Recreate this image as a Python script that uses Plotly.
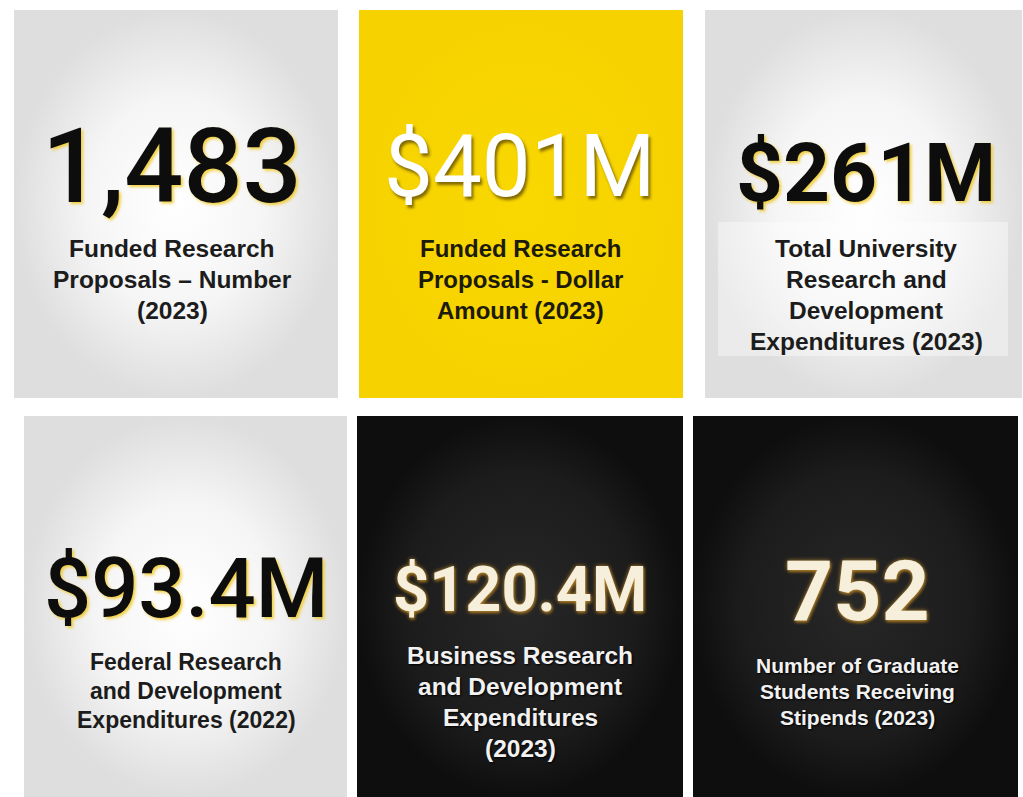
import plotly.graph_objects as go

# ---- data ----
values = ["1,483", "$401M", "$261M", "$93.4M", "$120.4M", "752"]
labels = [
    ["Funded Research", "Proposals – Number", "(2023)"],
    ["Funded Research", "Proposals - Dollar", "Amount (2023)"],
    ["Total University", "Research and", "Development", "Expenditures (2023)"],
    ["Federal Research", "and Development", "Expenditures (2022)"],
    ["Business Research", "and Development", "Expenditures", "(2023)"],
    ["Number of Graduate", "Students Receiving", "Stipends (2023)"],
]

# ---- layout / style ----
W, H = 1023, 797
tiles = [  # x0, x1, y0, y1 in page pixels
    (14, 338, 10, 398),
    (359, 683, 10, 398),
    (705, 1022, 10, 398),
    (24, 347, 416, 797),
    (357, 683, 416, 797),
    (693, 1018, 416, 797),
]
themes = ["light", "yellow", "light", "light", "dark", "dark"]
num_pos = [(172, 166), (520, 166), (866, 173), (186, 588), (520, 589), (857, 591)]
num_size = [104, 87, 82, 83, 63, 84]
num_weight = [500, 400, 700, 500, 700, 700]
lab_first = [248, 248, 248, 662, 655, 665]
lab_step = [31, 31, 31, 29, 31, 26]
lab_size = [24.5, 24, 24.5, 23, 24.5, 21]

fills = {
    "light": dict(type="radial", colorscale=[[0, "#ffffff"], [0.55, "#f5f5f5"], [1, "#dedede"]]),
    "yellow": dict(type="radial", colorscale=[[0, "#f9d700"], [1, "#f6d300"]]),
    "dark": dict(type="radial", colorscale=[[0, "#272727"], [0.7, "#1c1c1c"], [1, "#0e0e0e"]]),
}
num_color = {"light": "#0d0d0d", "yellow": "#ffffff", "dark": "#f6efdc"}
num_shadow = {
    "light": "2px 2px 3px rgba(240,200,30,0.85)",
    "yellow": "2px 3px 3px rgba(90,70,0,0.75)",
    "dark": "0px 0px 4px #b8862a, 1px 2px 3px #8a6420",
}
lab_color = {"light": "#1c1c1c", "yellow": "#1c1a08", "dark": "#f2f2f2"}
lab_shadow = {"light": "none", "yellow": "none", "dark": "1px 1px 2px #000000"}

fig = go.Figure()

for i, (x0, x1, y0, y1) in enumerate(tiles):
    th = themes[i]
    fig.add_trace(go.Scatter(
        x=[x0, x1, x1, x0, x0], y=[y0, y0, y1, y1, y0],
        mode="lines", line=dict(width=0), fill="toself",
        fillgradient=fills[th], hoverinfo="skip", showlegend=False,
    ))

# faint white panel behind the text on the third tile
fig.add_shape(type="rect", x0=718, x1=1008, y0=222, y1=356,
              fillcolor="rgba(255,255,255,0.4)", line_width=0, layer="above")

for i, v in enumerate(values):
    th = themes[i]
    cx, cy = num_pos[i]
    fig.add_annotation(
        x=cx, y=cy, text=v, showarrow=False, xanchor="center", yanchor="middle",
        font=dict(family="Roboto", size=num_size[i], color=num_color[th],
                  weight=num_weight[i], shadow=num_shadow[th]),
    )
    for j, line in enumerate(labels[i]):
        fig.add_annotation(
            x=cx, y=lab_first[i] + j * lab_step[i], text=line, showarrow=False,
            xanchor="center", yanchor="middle",
            font=dict(family="Liberation Sans", size=lab_size[i], color=lab_color[th],
                      weight="bold", shadow=lab_shadow[th]),
        )

fig.update_layout(
    width=W, height=H, margin=dict(l=0, r=0, t=0, b=0),
    paper_bgcolor="#ffffff", plot_bgcolor="#ffffff",
    xaxis=dict(range=[0, W], visible=False, fixedrange=True),
    yaxis=dict(range=[H, 0], visible=False, fixedrange=True),
    showlegend=False,
)

fig.write_html(
    "out.html",
    config={"displayModeBar": False},
    post_script="document.body.style.margin='0';document.body.style.overflow='hidden';",
)
